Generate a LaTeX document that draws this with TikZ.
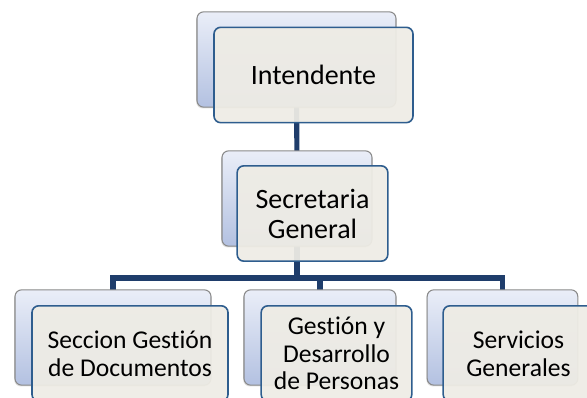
\documentclass[tikz,border=0pt]{standalone}
\usepackage{fontspec}
\setmainfont{Carlito}[RawFeature={-liga;-clig;-calt;-dlig}]
\usetikzlibrary{shadows,backgrounds}

\definecolor{linkblue}{HTML}{1F3D6B}
\definecolor{framegray}{HTML}{8A8A8A}
\definecolor{frontfill}{HTML}{EEECE5}
\definecolor{frontline}{HTML}{2E5D8E}
\definecolor{backtop}{HTML}{EAEEF8}
\definecolor{backbot}{HTML}{B3C1E1}

\tikzset{
  backbox/.style={draw=framegray, line width=0.8pt, rounded corners=5pt,
    top color=backtop, bottom color=backbot, minimum height=71.5pt,
    drop shadow={opacity=0.25, shadow xshift=-0.6pt, shadow yshift=-1pt}},
  frontbox/.style={draw=frontline, line width=1.2pt, rounded corners=5pt,
    fill=frontfill, fill opacity=0.94, text opacity=1, minimum height=71.5pt,
    align=center, inner sep=2pt},
  bigtext/.style={font=\fontsize{21}{22.5}\selectfont},
  smalltext/.style={font=\fontsize{19.2}{21}\selectfont},
  link/.style={draw=linkblue, line width=3.8pt}
}

\begin{document}
\begin{tikzpicture}[x=0.75pt,y=0.75pt,yscale=-1,xscale=1]
    \clip (0,0) rectangle (587,398);
    % upper boxes
    \node [backbox, minimum width=149.25pt] (intB) at (296.5,59.5) {};
    \node [frontbox, bigtext, minimum width=149.25pt] (int) at ([shift={(17,15.5)}]intB.center) {Intendente};
    \node [backbox, minimum width=112.5pt] (secB) at (297,198.5) {};
    \node [frontbox, bigtext, minimum width=113pt] (sec) at ([shift={(15.5,15)}]secB.center) {Secretaria\\General};
    % lower row
    \node [backbox, minimum width=147pt] (docB) at (113,337.5) {};
    \node [frontbox, smalltext, minimum width=147pt] (doc) at ([shift={(17,16)}]docB.center) {Seccion Gestión\\de Documentos};
    \node [backbox, minimum width=114pt] (perB) at (320,337.5) {};
    \node [frontbox, smalltext, minimum width=113pt, font=\fontsize{19.2}{20.6}\selectfont] (per) at ([shift={(16.5,16)}]perB.center) {Gestión y\\Desarrollo\\de Personas};
    \node [backbox, minimum width=113pt] (srvB) at (502.5,337.5) {};
    \node [frontbox, smalltext, minimum width=113pt] (srv) at ([shift={(16,16)}]srvB.center) {Servicios\\Generales};
    \coordinate (bus) at (297,278);
    % connectors behind the boxes
    \begin{pgfonlayer}{background}
        \draw [link] (intB.center) -- (secB.center);
        \draw [link] (secB.center) -- (bus);
        \draw [link] (docB.center) -- (docB.center |- bus) -- (srvB.center |- bus) -- (srvB.center);
        \draw [link] (perB.center) -- (perB.center |- bus);
    \end{pgfonlayer}
\end{tikzpicture}
\end{document}
